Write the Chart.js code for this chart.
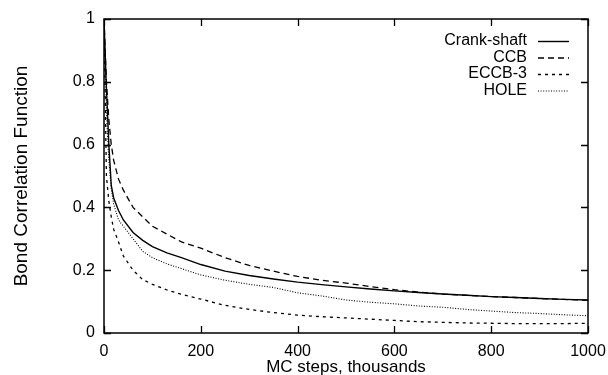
<!DOCTYPE html>
<html>
<head>
<meta charset="utf-8">
<script src="https://cdn.jsdelivr.net/npm/chart.js@4/dist/chart.umd.min.js"></script>
<style>
  html, body { margin: 0; padding: 0; background: #fff; }
  #wrap { width: 608px; height: 375px; }
</style>
</head>
<body>
<div id="wrap"><canvas id="c" width="608" height="375"></canvas></div>
<script>
// ---- data ----
const seriesNames = ["Crank-shaft", "CCB", "ECCB-3", "HOLE"];
const steps = [0, 5, 10, 15, 20, 30, 40, 60, 80, 100, 130, 160, 200, 250, 300, 350, 400, 450, 500, 550, 600, 650, 700, 750, 800, 850, 900, 950, 1000];
const crankShaft = [1.0, 0.78, 0.60, 0.47, 0.43, 0.39, 0.36, 0.32, 0.295, 0.275, 0.255, 0.24, 0.218, 0.197, 0.183, 0.172, 0.162, 0.154, 0.147, 0.140, 0.134, 0.129, 0.124, 0.120, 0.116, 0.113, 0.110, 0.107, 0.105];
const ccb        = [1.0, 0.80, 0.68, 0.60, 0.55, 0.49, 0.455, 0.40, 0.37, 0.34, 0.315, 0.29, 0.27, 0.24, 0.215, 0.197, 0.180, 0.168, 0.159, 0.148, 0.138, 0.130, 0.124, 0.120, 0.116, 0.113, 0.110, 0.107, 0.104];
const eccb3      = [1.0, 0.50, 0.42, 0.37, 0.33, 0.29, 0.245, 0.20, 0.17, 0.155, 0.137, 0.123, 0.108, 0.088, 0.075, 0.065, 0.057, 0.052, 0.048, 0.044, 0.040, 0.036, 0.034, 0.032, 0.031, 0.030, 0.030, 0.030, 0.031];
const hole       = [1.0, 0.70, 0.55, 0.46, 0.41, 0.36, 0.34, 0.30, 0.26, 0.24, 0.22, 0.205, 0.185, 0.168, 0.155, 0.145, 0.128, 0.118, 0.105, 0.098, 0.093, 0.086, 0.082, 0.075, 0.070, 0.065, 0.062, 0.058, 0.055];
const xTicks = [0, 200, 400, 600, 800, 1000];
const yTicks = [0, 0.2, 0.4, 0.6, 0.8, 1];
const xTitle = "MC steps, thousands";
const yTitle = "Bond Correlation Function";

const allValues = [crankShaft, ccb, eccb3, hole];
const dashes = [[], [6, 4], [3, 4], [1, 1.6]];
const widths = [1.4, 1.3, 1.3, 1.1];

Chart.defaults.font.family = "'Liberation Sans', Arial, sans-serif";
Chart.defaults.color = "#000";

const datasets = seriesNames.map((name, k) => ({
  label: name,
  data: steps.map((s, i) => ({ x: s, y: allValues[k][i] })),
  borderColor: "#000",
  borderWidth: widths[k],
  borderDash: dashes[k],
  pointRadius: 0,
  tension: 0,
  fill: false
}));

const framePlugin = {
  id: "frame",
  afterDatasetsDraw(chart) {
    const { ctx, chartArea: a, scales: { x, y } } = chart;
    ctx.save();
    ctx.strokeStyle = "#000";
    ctx.setLineDash([]);
    ctx.lineWidth = 1.5;
    ctx.strokeRect(a.left, a.top, a.right - a.left, a.bottom - a.top);
    const L = 7;
    ctx.lineWidth = 1.3;
    ctx.beginPath();
    x.ticks.forEach(t => {
      const p = Math.round(x.getPixelForValue(t.value)) + 0.5;
      ctx.moveTo(p, a.bottom); ctx.lineTo(p, a.bottom - L);
      ctx.moveTo(p, a.top); ctx.lineTo(p, a.top + L);
    });
    y.ticks.forEach(t => {
      const p = Math.round(y.getPixelForValue(t.value)) + 0.5;
      ctx.moveTo(a.left, p); ctx.lineTo(a.left + L, p);
      ctx.moveTo(a.right, p); ctx.lineTo(a.right - L, p);
    });
    ctx.stroke();
    // gnuplot-style key: label then line sample
    ctx.font = "16px 'Liberation Sans', Arial, sans-serif";
    ctx.fillStyle = "#000";
    ctx.textAlign = "right";
    ctx.textBaseline = "middle";
    chart.data.datasets.forEach((ds, i) => {
      const yy = a.top + 22 + i * 16.5;
      ctx.fillText(ds.label, a.right - 61, yy);
      ctx.beginPath();
      ctx.lineWidth = ds.borderWidth;
      ctx.setLineDash(ds.borderDash);
      ctx.moveTo(a.right - 50, yy + 0.5);
      ctx.lineTo(a.right - 19, yy + 0.5);
      ctx.stroke();
    });
    ctx.restore();
  }
};

new Chart(document.getElementById("c"), {
  type: "line",
  data: { datasets },
  plugins: [framePlugin],
  options: {
    responsive: false,
    animation: false,
    devicePixelRatio: 1,
    layout: { padding: { left: 0, right: 20, top: 19, bottom: 0 } },
    plugins: { legend: { display: false }, tooltip: { enabled: false }, title: { display: false } },
    scales: {
      x: {
        type: "linear",
        min: 0, max: 1000,
        afterBuildTicks: s => { s.ticks = xTicks.map(v => ({ value: v })); },
        ticks: { font: { size: 16 }, padding: 9, maxRotation: 0, autoSkip: false, callback: v => String(v) },
        grid: { display: false, drawTicks: false },
        border: { display: false },
        title: { display: true, text: xTitle, font: { size: 17 }, padding: { top: 0, bottom: -3 } },
        afterFit: s => { s.height = 42; s.paddingLeft = 0; s.paddingRight = 0; }
      },
      y: {
        type: "linear",
        min: 0, max: 1,
        afterBuildTicks: s => { s.ticks = yTicks.map(v => ({ value: v })); },
        ticks: { font: { size: 16 }, padding: 9, callback: v => String(+v.toFixed(1)) },
        grid: { display: false, drawTicks: false },
        border: { display: false },
        title: { display: true, text: yTitle, font: { size: 19 }, padding: { top: 10, bottom: 0 } },
        afterFit: s => { s.width = 104; s.paddingTop = 0; s.paddingBottom = 0; }
      }
    }
  }
});
</script>
</body>
</html>
